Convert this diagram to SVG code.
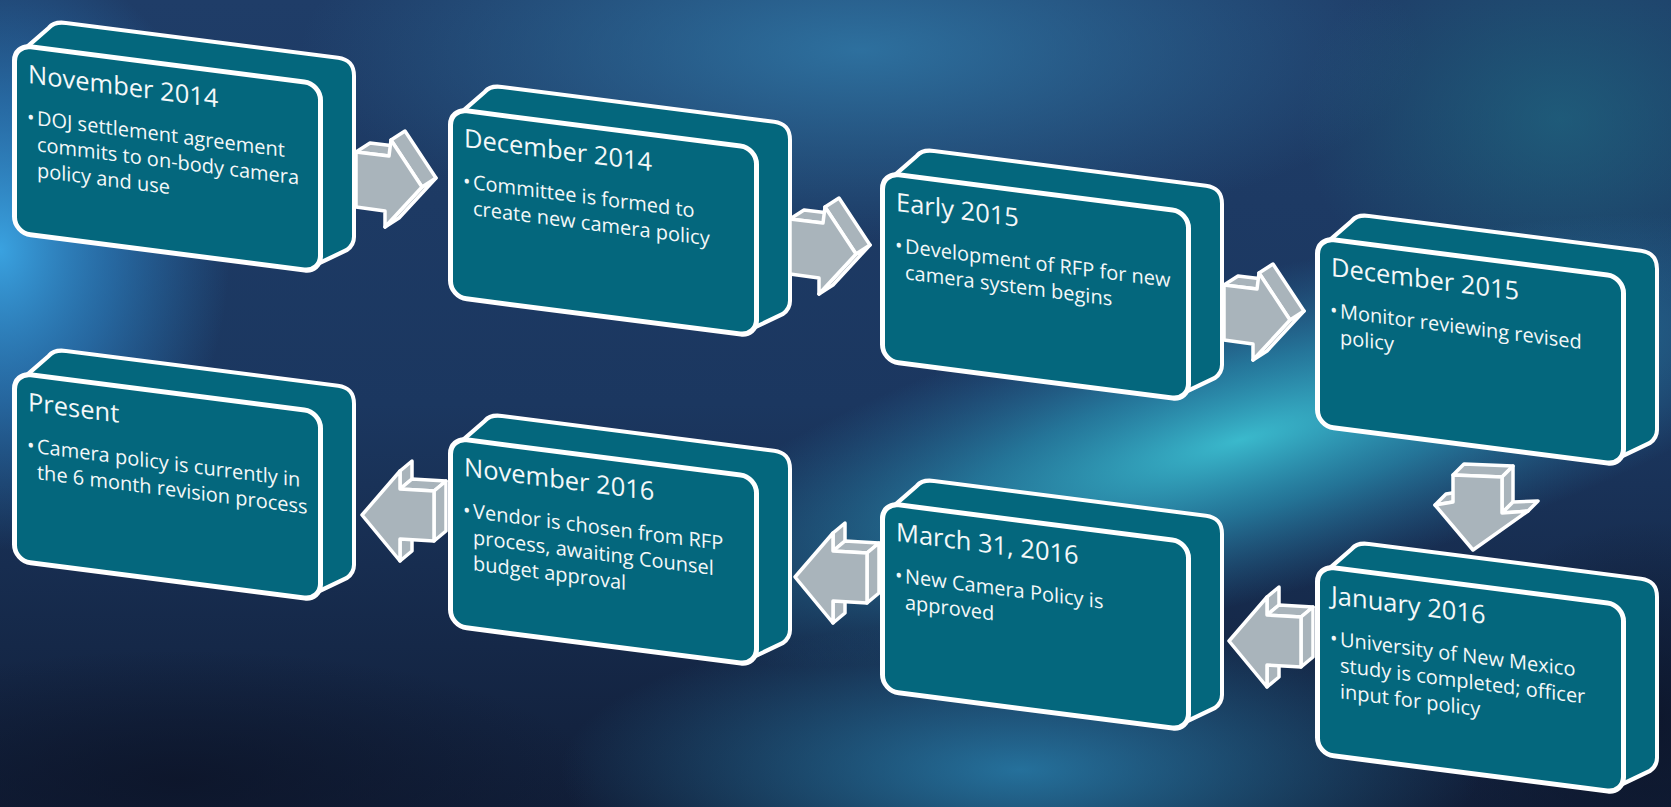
<svg xmlns="http://www.w3.org/2000/svg" xmlns:xlink="http://www.w3.org/1999/xlink" width="1671" height="807" viewBox="0 0 1671 807">
<style>
.face{fill:#04677d;stroke:#fff;stroke-width:5}
.back{fill:#04677d;stroke:#fff;stroke-width:4;stroke-linejoin:round}
.arr{fill:#a9b4bb;stroke:#fff;stroke-width:3.5;stroke-linejoin:round}
text{font-family:'Open Sans','Liberation Sans',sans-serif;fill:#f4f8f9}
.title{font-size:25.5px}
.body{font-size:20px}
</style>
<defs>
<linearGradient id="bg" x1="0" y1="0" x2="0" y2="1">
<stop offset="0" stop-color="#1f3d68"/>
<stop offset="0.5" stop-color="#1b3760"/>
<stop offset="1" stop-color="#111e38"/>
</linearGradient>
<radialGradient id="gCyan"><stop offset="0" stop-color="#3cc0d2" stop-opacity="0.95"/><stop offset="0.45" stop-color="#2b9fc0" stop-opacity="0.6"/><stop offset="1" stop-color="#2a7fb0" stop-opacity="0"/></radialGradient>
<radialGradient id="gLeft"><stop offset="0" stop-color="#3aa2e0" stop-opacity="1"/><stop offset="0.5" stop-color="#2d86c8" stop-opacity="0.6"/><stop offset="1" stop-color="#2a7fc0" stop-opacity="0"/></radialGradient>
<radialGradient id="gTop"><stop offset="0" stop-color="#3079a8" stop-opacity="0.85"/><stop offset="1" stop-color="#2f74a3" stop-opacity="0"/></radialGradient>
<radialGradient id="gBot"><stop offset="0" stop-color="#2b8bbb" stop-opacity="0.75"/><stop offset="1" stop-color="#2b86b5" stop-opacity="0"/></radialGradient>
<radialGradient id="gTeal"><stop offset="0" stop-color="#1f6f86" stop-opacity="0.6"/><stop offset="1" stop-color="#1f6f86" stop-opacity="0"/></radialGradient>
<radialGradient id="gDark"><stop offset="0" stop-color="#0c1428" stop-opacity="0.8"/><stop offset="1" stop-color="#0c1428" stop-opacity="0"/></radialGradient>
<path id="boxBack" class="back" d="M9,9 L37,-19 Q42,-26 54,-26 L326,-26 Q342,-26 342,-10 L342,151 Q342,159 335,165 L302,185 L9,185 Z"/>
<rect id="boxFace" class="face" x="2.5" y="2.5" width="306" height="188" rx="16"/>
<g id="arrR">
<polygon class="arr" points="0,0 33,4 47,-5 14,-9"/>
<polygon class="arr" points="66,35 29,75 43,66 80,26"/>
<polygon class="arr" points="35,-12 66,35 80,26 49,-21"/>
<polygon class="arr" points="0,0 33,4 35,-12 66,35 29,75 29,59 0,55"/>
</g>
<g id="arrD">
<polygon class="arr" points="-18,30 0,27 11,16 -7,19"/>
<polygon class="arr" points="0,0 49,2 60,-9 11,-11"/>
<polygon class="arr" points="49,2 49,38 60,27 60,-9"/>
<polygon class="arr" points="49,38 75,36 85,26 60,27"/>
<polygon class="arr" points="0,0 49,2 49,38 75,36 20,75 -18,30 0,27"/>
</g>
<g id="arrL">
<polygon class="arr" points="38,-44 38,-26 50,-36 50,-54"/>
<polygon class="arr" points="38,-26 72,-24 84,-34 50,-36"/>
<polygon class="arr" points="72,-24 72,26 84,16 84,-34"/>
<polygon class="arr" points="38,24 38,46 50,36 50,14"/>
<polygon class="arr" points="0,0 38,-44 38,-26 72,-24 72,26 38,24 38,46"/>
</g>
</defs>
<g id="background">
<rect width="1671" height="807" fill="url(#bg)"/>
<ellipse cx="860" cy="50" rx="560" ry="190" fill="url(#gTop)"/>
<ellipse cx="1560" cy="120" rx="260" ry="200" fill="url(#gTeal)"/>
<ellipse cx="1240" cy="440" rx="640" ry="160" fill="url(#gCyan)" transform="rotate(-15 1240 440)"/>
<ellipse cx="0" cy="250" rx="230" ry="300" fill="url(#gLeft)"/>
<ellipse cx="1020" cy="770" rx="460" ry="150" fill="url(#gBot)"/>
<ellipse cx="180" cy="780" rx="420" ry="130" fill="url(#gDark)"/>
<ellipse cx="1650" cy="720" rx="200" ry="200" fill="url(#gDark)"/>
</g>
<g id="box1" transform="translate(12,42) skewY(7.3)">
<use xlink:href="#boxBack"/><use xlink:href="#boxFace"/>
<text class="title" x="16" y="39">November 2014</text>
<text class="body" x="15" y="80">•</text>
<text class="body" x="25" y="80">DOJ settlement agreement</text>
<text class="body" x="25" y="106">commits to on-body camera</text>
<text class="body" x="25" y="132">policy and use</text>
</g>
<g id="box2" transform="translate(448,106) skewY(7.3)">
<use xlink:href="#boxBack"/><use xlink:href="#boxFace"/>
<text class="title" x="16" y="39">December 2014</text>
<text class="body" x="15" y="80">•</text>
<text class="body" x="25" y="80">Committee is formed to</text>
<text class="body" x="25" y="106">create new camera policy</text>
</g>
<g id="box3" transform="translate(880,170) skewY(7.3)">
<use xlink:href="#boxBack"/><use xlink:href="#boxFace"/>
<text class="title" x="16" y="39">Early 2015</text>
<text class="body" x="15" y="80">•</text>
<text class="body" x="25" y="80">Development of RFP for new</text>
<text class="body" x="25" y="106">camera system begins</text>
</g>
<g id="box4" transform="translate(1315,235) skewY(7.3)">
<use xlink:href="#boxBack"/><use xlink:href="#boxFace"/>
<text class="title" x="16" y="39">December 2015</text>
<text class="body" x="15" y="80">•</text>
<text class="body" x="25" y="80">Monitor reviewing revised</text>
<text class="body" x="25" y="106">policy</text>
</g>
<g id="box5" transform="translate(1315,563) skewY(7.3)">
<use xlink:href="#boxBack"/><use xlink:href="#boxFace"/>
<text class="title" x="16" y="39">January 2016</text>
<text class="body" x="15" y="80">•</text>
<text class="body" x="25" y="80">University of New Mexico</text>
<text class="body" x="25" y="106">study is completed; officer</text>
<text class="body" x="25" y="132">input for policy</text>
</g>
<g id="box6" transform="translate(880,500) skewY(7.3)">
<use xlink:href="#boxBack"/><use xlink:href="#boxFace"/>
<text class="title" x="16" y="39">March 31, 2016</text>
<text class="body" x="15" y="80">•</text>
<text class="body" x="25" y="80">New Camera Policy is</text>
<text class="body" x="25" y="106">approved</text>
</g>
<g id="box7" transform="translate(448,435) skewY(7.3)">
<use xlink:href="#boxBack"/><use xlink:href="#boxFace"/>
<text class="title" x="16" y="39">November 2016</text>
<text class="body" x="15" y="80">•</text>
<text class="body" x="25" y="80">Vendor is chosen from RFP</text>
<text class="body" x="25" y="106">process, awaiting Counsel</text>
<text class="body" x="25" y="132">budget approval</text>
</g>
<g id="box8" transform="translate(12,370) skewY(7.3)">
<use xlink:href="#boxBack"/><use xlink:href="#boxFace"/>
<text class="title" x="16" y="39">Present</text>
<text class="body" x="15" y="80">•</text>
<text class="body" x="25" y="80">Camera policy is currently in</text>
<text class="body" x="25" y="106">the 6 month revision process</text>
</g>
<g id="connectors">
<use xlink:href="#arrR" transform="translate(356,152)"/>
<use xlink:href="#arrR" transform="translate(790,219)"/>
<use xlink:href="#arrR" transform="translate(1224,285)"/>
<use xlink:href="#arrD" transform="translate(1453,475)"/>
<use xlink:href="#arrL" transform="translate(1229,641)"/>
<use xlink:href="#arrL" transform="translate(795,577)"/>
<use xlink:href="#arrL" transform="translate(362,515)"/>
</g>
</svg>
